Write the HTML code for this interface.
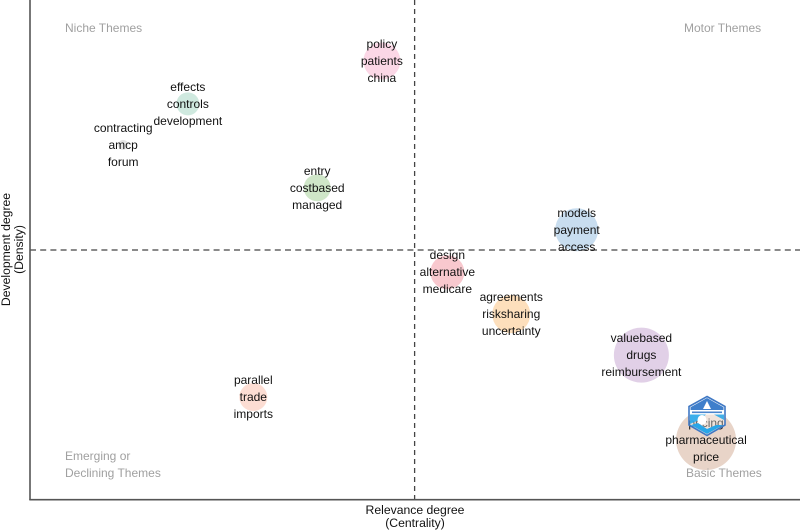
<!DOCTYPE html>
<html lang="en">
<head>
<meta charset="utf-8">
<title>Thematic map</title>
<style>
html,body{margin:0;padding:0;background:#fff;overflow:hidden;}
svg{display:block;font-family:"Liberation Sans",Arial,sans-serif;filter:blur(0.35px);}
</style>
</head>
<body>
<svg id="chart" xmlns="http://www.w3.org/2000/svg" width="800" height="530" viewBox="0 0 800 530">
  <rect width="800" height="530" fill="#ffffff"/>
  <g id="bubbles"></g>
  <line id="v-median" y1="0" y2="499" stroke="#444" stroke-width="1.3" stroke-dasharray="5 4"/>
  <line id="h-median" x1="30" x2="800" stroke="#444" stroke-width="1.3" stroke-dasharray="6 4.2"/>
  <line x1="30" y1="0" x2="30" y2="500" stroke="#555" stroke-width="1.6"/>
  <line x1="29.3" y1="499.7" x2="800" y2="499.7" stroke="#555" stroke-width="1.6"/>
  <g font-size="12" fill="#a0a0a0">
    <text x="65" y="32">Niche Themes</text>
    <text x="684" y="32">Motor Themes</text>
    <text x="65" y="460">Emerging or</text>
    <text x="65" y="477">Declining Themes</text>
    <text x="686" y="477">Basic Themes</text>
  </g>
  <g id="labels" font-size="12" fill="#111" text-anchor="middle"></g>
  <g font-size="12.2" fill="#111" text-anchor="middle">
    <text x="415" y="514">Relevance degree</text>
    <text x="415" y="527">(Centrality)</text>
    <text transform="translate(10,249.5) rotate(-90)">Development degree</text>
    <text transform="translate(23,249.5) rotate(-90)">(Density)</text>
  </g>
  <g>
    <polygon points="707,396.5 725,406.5 725,425 707,435.5 689,425 689,406.5" fill="#ffffff" fill-opacity="0.35" stroke="#3f78c4" stroke-width="1.6"/>
    <polygon points="707,398 723.5,407.2 723.5,410 690.5,410 690.5,407.2" fill="#3f7fcb"/>
    <polygon points="707,401 711,409 703,409" fill="#ffffff"/>
    <rect x="690" y="410" width="34" height="4.5" fill="#ffffff"/>
    <rect x="692" y="411.5" width="30" height="1.6" fill="#4b85cc"/>
    <polygon points="690,414.5 706,414.5 699,420 690,424" fill="#27a8ec" fill-opacity="0.9"/>
    <polygon points="724,414.5 714,414.5 724,420" fill="#2fa9e8" fill-opacity="0.9"/>
    <ellipse cx="702" cy="420" rx="4.5" ry="5" fill="#ffffff"/>
    <polygon points="691,425 698,423 707,429 716,425 723,425 707,434" fill="#29a6e8"/>
  </g>
</svg>
<script>
var clusterNames = ["policy", "effects", "contracting", "entry", "models", "design", "agreements", "valuebased", "pricing", "parallel"];
var centrality = [45.7, 20.5, 12.1, 37.3, 71.0, 54.2, 62.5, 79.4, 87.8, 29.0];
var density = [87.8, 79.2, 71.0, 62.4, 54.0, 45.5, 37.1, 28.9, 11.9, 20.5];
var frequency = [342, 132, 25, 182, 462, 289, 361, 756, 900, 196];
var clusterColors = ["#fbd7e6", "#cfe9df", "#e4e4e4", "#cfe6c8", "#c8ddef", "#f8c8ce", "#fddfbc", "#e1d0e7", "#e8d4c8", "#fcddd3"];
var topWords = ["policy", "effects", "contracting", "entry", "models", "design", "agreements", "valuebased", "pricing", "parallel"];
var midWords = ["patients", "controls", "amcp", "costbased", "payment", "alternative", "risksharing", "drugs", "pharmaceutical", "trade"];
var lowWords = ["china", "development", "forum", "managed", "access", "medicare", "uncertainty", "reimbursement", "price", "imports"];
var medianCentrality = 49.95;
var medianDensity = 49.95;

var NS = "http://www.w3.org/2000/svg";
function xScale(v) { return 30 + v * 7.7; }
function yScale(v) { return 499.5 - v * 4.995; }
function rScale(v) { return Math.sqrt(v); }

var vLine = document.getElementById("v-median");
vLine.setAttribute("x1", xScale(medianCentrality));
vLine.setAttribute("x2", xScale(medianCentrality));
var hLine = document.getElementById("h-median");
hLine.setAttribute("y1", yScale(medianDensity));
hLine.setAttribute("y2", yScale(medianDensity));

var bubbleLayer = document.getElementById("bubbles");
var labelLayer = document.getElementById("labels");

function addWord(word, x, y) {
  var t = document.createElementNS(NS, "text");
  
  
  t.setAttribute("x", x);
  t.setAttribute("y", y);
  t.textContent = word;
  labelLayer.appendChild(t);
}

clusterNames.forEach(function (name, i) {
  var cx = xScale(centrality[i]);
  var cy = yScale(density[i]);
  var c = document.createElementNS(NS, "circle");
  
  
  c.setAttribute("cx", cx);
  c.setAttribute("cy", cy);
  c.setAttribute("r", rScale(frequency[i]));
  c.setAttribute("fill", clusterColors[i]);
  bubbleLayer.appendChild(c);
  addWord(topWords[i], cx, cy - 13);
  addWord(midWords[i], cx, cy + 4);
  addWord(lowWords[i], cx, cy + 21);
});
</script>
</body>
</html>
